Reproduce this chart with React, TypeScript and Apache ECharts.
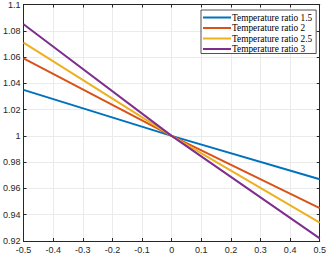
import React, { useEffect, useRef } from "react";
import * as echarts from "echarts";

const xValues = [-0.5, 0, 0.5];
const seriesNames = ["Temperature ratio 1.5", "Temperature ratio 2", "Temperature ratio 2.5", "Temperature ratio 3"];
const ratio15 = [1.035, 1.0, 0.967];
const ratio2 = [1.059, 1.0, 0.945];
const ratio25 = [1.071, 1.0, 0.934];
const ratio3 = [1.085, 1.0, 0.922];
const colors = ["#0072BD", "#D95319", "#EDB120", "#7E2F8E"];

export default function App() {
  const ref = useRef<HTMLDivElement>(null);
  useEffect(() => {
    const chart = echarts.init(ref.current!, null, { renderer: "svg" });
    const all = [ratio15, ratio2, ratio25, ratio3];
    const axisColor = "#262626";
    const font = "Liberation Sans, Arial, sans-serif";
    const fmtY = (v: number) => String(parseFloat(v.toFixed(2)));
    const fmtX = (v: number) => String(parseFloat(v.toFixed(1)));
    chart.setOption({
      animation: false,
      backgroundColor: "#fff",
      grid: { left: 23, right: 6, top: 4, bottom: 14, show: false },
      legend: {
        orient: "vertical",
        left: 201,
        top: 10,
        padding: [3, 4, 0, 2],
        itemWidth: 28,
        itemHeight: 2,
        itemGap: 1.5,
        icon: "rect",
        backgroundColor: "#fff",
        borderColor: "#262626",
        borderWidth: 0.8,
        borderRadius: 0,
        textStyle: {
          fontFamily: "Liberation Serif, Times New Roman, serif",
          fontSize: 9.3,
          color: "#000",
          padding: [0, 0, 0, -4],
        },
        data: seriesNames,
      },
      xAxis: [
        {
          type: "value",
          min: -0.5,
          max: 0.5,
          interval: 0.1,
          position: "bottom",
          axisLine: { show: true, onZero: false, lineStyle: { color: axisColor, width: 1 } },
          axisTick: { show: true, inside: true, length: 3, lineStyle: { color: axisColor } },
          axisLabel: { color: axisColor, fontSize: 9, fontFamily: font, margin: 4, formatter: fmtX },
          splitLine: { show: true, lineStyle: { color: "#ebebeb", width: 1 } },
        },
        {
          type: "value",
          min: -0.5,
          max: 0.5,
          interval: 0.1,
          position: "top",
          axisLine: { show: true, onZero: false, lineStyle: { color: axisColor, width: 1 } },
          axisTick: { show: true, inside: true, length: 3, lineStyle: { color: axisColor } },
          axisLabel: { show: false },
          splitLine: { show: false },
        },
      ],
      yAxis: [
        {
          type: "value",
          min: 0.92,
          max: 1.1,
          interval: 0.02,
          position: "left",
          axisLine: { show: true, onZero: false, lineStyle: { color: axisColor, width: 1 } },
          axisTick: { show: true, inside: true, length: 3, lineStyle: { color: axisColor } },
          axisLabel: { color: axisColor, fontSize: 9, fontFamily: font, margin: 3, formatter: fmtY },
          splitLine: { show: true, lineStyle: { color: "#ebebeb", width: 1 } },
        },
        {
          type: "value",
          min: 0.92,
          max: 1.1,
          interval: 0.02,
          position: "right",
          axisLine: { show: true, onZero: false, lineStyle: { color: axisColor, width: 1 } },
          axisTick: { show: true, inside: true, length: 3, lineStyle: { color: axisColor } },
          axisLabel: { show: false },
          splitLine: { show: false },
        },
      ],
      series: seriesNames.map((name, i) => ({
        name,
        type: "line",
        xAxisIndex: 0,
        yAxisIndex: 0,
        symbol: "none",
        showSymbol: false,
        color: colors[i],
        lineStyle: { width: 2, color: colors[i] },
        data: xValues.map((x, j) => [x, all[i][j]]),
      })),
    });
    return () => chart.dispose();
  }, []);
  return <div ref={ref} style={{ position: "fixed", left: 0, top: 0, width: 329, height: 255 }} />;
}
